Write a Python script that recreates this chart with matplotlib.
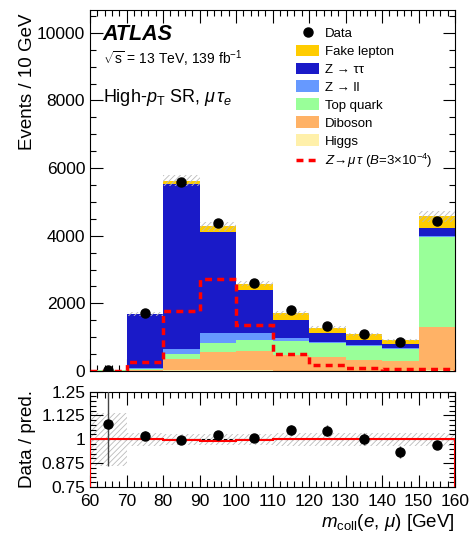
import numpy as np
import matplotlib
matplotlib.use("Agg")
import matplotlib.pyplot as plt
from matplotlib.patches import Patch
from matplotlib.lines import Line2D
from matplotlib.ticker import MultipleLocator, FixedLocator

plt.rcParams['font.family'] = ['Liberation Sans', 'DejaVu Sans']
plt.rcParams['mathtext.fontset'] = 'custom'
plt.rcParams['mathtext.it'] = 'Liberation Sans:italic'
plt.rcParams['mathtext.rm'] = 'Liberation Sans'
plt.rcParams['hatch.linewidth'] = 0.6

# ---------------- data ----------------
bin_edges = [60, 70, 80, 90, 100, 110, 120, 130, 140, 150, 160]
higgs    = [2, 10, 15, 15, 15, 12, 10, 8, 8, 15]
diboson  = [6, 25, 345, 555, 583, 468, 392, 325, 296, 1298]
top      = [7, 35, 135, 244, 314, 402, 431, 402, 353, 2657]
zll      = [3, 20, 145, 323, 205, 88, 20, 20, 19, 20]
ztautau  = [4, 1586, 4880, 2970, 1265, 530, 284, 176, 108, 245]
fake     = [1.2, 17, 105, 176, 203, 210, 140, 155, 142, 343]
data     = [25, 1725, 5597, 4382, 2598, 1794, 1333, 1088, 863, 4441]
signal   = [5, 255, 1784, 2725, 1353, 500, 186, 88, 59, 59]
unc_rel  = [0.14, 0.035, 0.03, 0.03, 0.03, 0.035, 0.035, 0.035, 0.035, 0.035]
ratio_line = [1.003, 1.003, 0.998, 0.993, 0.995, 0.999, 1.002, 1.003, 1.003, 1.003]

components = [
    ("Higgs", higgs, "#FFF0AA"),
    ("Diboson", diboson, "#FFB266"),
    ("Top quark", top, "#99FF99"),
    ("Z \u2192 ll", zll, "#6699FF"),
    ("Z \u2192 \u03c4\u03c4", ztautau, "#1A1AC8"),
    ("Fake lepton", fake, "#FFCC00"),
]

edges = np.array(bin_edges, dtype=float)
lefts = edges[:-1]
widths = np.diff(edges)
centers = lefts + widths / 2

fig = plt.figure(figsize=(4.69, 5.36), dpi=100)
ax = fig.add_axes([90/469, 1-371/536, 365/469, (371-9.5)/536])
rx = fig.add_axes([90/469, 1-487/536, 365/469, (487-391.5)/536])

bottom = np.zeros(len(lefts))
for name, vals, col in components:
    v = np.array(vals, dtype=float)
    ax.bar(lefts, v, width=widths, bottom=bottom, align='edge', color=col,
           linewidth=0, zorder=2)
    bottom = bottom + v
total = bottom

unc = total * np.array(unc_rel)
ax.bar(lefts, 2*unc, width=widths, bottom=total-unc, align='edge', fill=False,
       hatch='//////', edgecolor='#BBBBBB', linewidth=0, zorder=3)

ax.stairs(signal, edges, color='#FF0000', linewidth=2.5, linestyle=(0, (2, 1.5)), zorder=4)

d = np.array(data, dtype=float)
derr = np.sqrt(d)
ax.errorbar(centers, d, yerr=derr, fmt='o', color='black', markersize=6.5,
            elinewidth=1, capsize=0, zorder=5)

ax.set_xlim(60, 160)
ax.set_ylim(0, 10690)
ax.yaxis.set_major_locator(MultipleLocator(2000))
ax.yaxis.set_minor_locator(MultipleLocator(500))
ax.xaxis.set_major_locator(MultipleLocator(10))
ax.xaxis.set_minor_locator(MultipleLocator(2))
for a in (ax, rx):
    a.tick_params(which='both', direction='in', top=True, right=True, labelsize=12.5)
    a.tick_params(which='major', length=9, width=0.8)
    a.tick_params(which='minor', length=4.5, width=0.8)
    for s in a.spines.values():
        s.set_linewidth(0.8)
ax.tick_params(labelbottom=False)
ax.set_ylabel("Events / 10 GeV", fontsize=13.5, ha='right')
ax.yaxis.set_label_coords(-0.148, 0.99)

ax.text(0.035, 0.916, "ATLAS", transform=ax.transAxes, fontsize=15.5,
        fontweight='bold', fontstyle='italic', va='baseline')
ax.text(0.035, 0.849, r"$\sqrt{\mathrm{s}}$ = 13 TeV, 139 fb$^{\mathregular{-1}}$", transform=ax.transAxes,
        fontsize=10, va='baseline')
ax.text(0.035, 0.745, r"High-$p_{\mathrm{T}}$ SR, $\mu\,\tau_{e}$", transform=ax.transAxes,
        fontsize=13, va='baseline')

handles = [Line2D([], [], marker='o', color='black', linestyle='none', markersize=6.5)]
labels = ["Data"]
for name, vals, col in reversed(components):
    handles.append(Patch(facecolor=col, edgecolor='none'))
    labels.append(name)
handles.append(Line2D([], [], color='#FF0000', linewidth=2.5, linestyle=(0, (2, 1.5))))
labels.append(r"$Z\!\rightarrow\!\mu\,\tau$ ($B$=3$\times$10$^{\mathregular{-4}}$)")
leg = ax.legend(handles, labels, loc='upper left', bbox_to_anchor=(0.54, 0.978),
                frameon=False, fontsize=9.5, handlelength=1.75, handleheight=1.0,
                labelspacing=0.34, handletextpad=0.4, borderpad=0.2)

# ratio panel
rx.bar(lefts, 2*np.array(unc_rel), width=widths, bottom=1-np.array(unc_rel), align='edge',
       fill=False, hatch='//////', edgecolor='#BBBBBB', linewidth=0, zorder=1)
rx.axhline(1.0, color='black', linestyle=(0, (3, 2)), linewidth=0.8, zorder=2)
rx.stairs(ratio_line, edges, color='#FF0000', linewidth=1.5, zorder=3)
r = d / total
rerr = derr / total
rx.errorbar(centers, r, yerr=rerr, fmt='o', color='black', markersize=6.5,
            elinewidth=1, ecolor='#444444', capsize=0, zorder=5)
rx.set_xlim(60, 160)
rx.set_ylim(0.75, 1.25)
rx.yaxis.set_major_locator(FixedLocator([0.75, 0.875, 1.0, 1.125, 1.25]))
rx.yaxis.set_minor_locator(MultipleLocator(0.025))
rx.set_yticklabels(["0.75", "0.875", "1", "1.125", "1.25"])
rx.xaxis.set_major_locator(MultipleLocator(10))
rx.xaxis.set_minor_locator(MultipleLocator(2))
rx.tick_params(axis='x', pad=5)
rx.set_ylabel("Data / pred.", fontsize=13.5)
rx.yaxis.set_label_coords(-0.148, 0.5)
rx.set_xlabel(r"$m_{\mathrm{coll}}(e,\,\mu)$ [GeV]", fontsize=13.5, ha='right', x=1.0, labelpad=2)

fig.savefig("out.png", dpi=100)
